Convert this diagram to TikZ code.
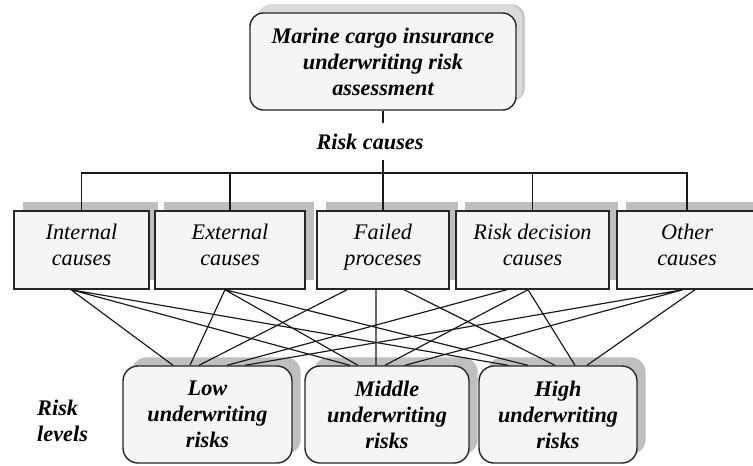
\documentclass[tikz,border=0pt]{standalone}
\usepackage{fontspec}
\setmainfont{Liberation Serif}
\usetikzlibrary{shadows,calc}

\begin{document}
\begin{tikzpicture}[x=0.03cm, y=-0.03cm,
    causebox/.style={draw=black!85, line width=1.2pt, fill=gray!8, align=center, inner sep=0pt,
        font=\fontsize{19}{22.2}\selectfont\itshape, minimum height=2.34cm, text depth=8.5pt,
        drop shadow={shadow xshift=0.26cm, shadow yshift=0.26cm, fill=gray!50, opacity=1}},
    levelbox/.style={causebox, rounded corners=0.45cm, minimum height=2.91cm, text depth=0pt,
        font=\fontsize{19}{22.2}\selectfont\bfseries\itshape},
    topbox/.style={levelbox, rounded corners=0.4cm,
        drop shadow={shadow xshift=0.2cm, shadow yshift=0.24cm, fill=gray!28, opacity=1}},
    bilabel/.style={font=\fontsize{19}{22.2}\selectfont\bfseries\itshape, inner sep=0pt},
    link/.style={line width=1pt, black!90}]
\useasboundingbox (0,0) rectangle (753,465);

\node[topbox, minimum width=7.98cm] (assess) at (383,61.5) {Marine cargo insurance\\underwriting risk\\assessment};
\node[bilabel, minimum height=1.11cm] (causes) at (370,141.5) {Risk causes};
\coordinate (bar) at (0,173);

\node[causebox, minimum width=4.05cm] (internal) at (81.5,250) {Internal\\causes};
\node[causebox, minimum width=4.5cm] (external) at (230,250) {External\\causes};
\node[causebox, minimum width=3.96cm] (failed) at (383,250) {Failed\\proceses};
\node[causebox, minimum width=4.59cm] (decision) at (532.5,250) {Risk decision\\causes};
\node[causebox, minimum width=4.2cm] (other) at (687,250) {Other\\causes};

\node[levelbox, minimum width=5.07cm] (low) at (207.5,414.5) {Low\\underwriting\\risks};
\node[levelbox, minimum width=4.92cm] (middle) at (387,414.5) {Middle\\underwriting\\risks};
\node[levelbox, minimum width=4.74cm] (high) at (558,414.5) {High\\underwriting\\risks};
\node[bilabel, anchor=west, align=left] (levels) at (37,421) {Risk\\levels};

\draw[link] (assess.south) -- (assess.south |- causes.north);
\draw[link] (failed.north |- causes.south) -- (failed.north);
\draw[link] (internal.north) -- (internal.north |- bar) -| (other.north);
\draw[link] (external.north) -- (external.north |- bar);
\draw[link] (decision.north) -- (decision.north |- bar);

\draw[link] ($(internal.south)+(-10.5,0)$) -- ($(low.north)+(-34.5,0)$)
    ($(internal.south)+(-10.5,0)$) -- ($(middle.north)+(-37,0)$)
    ($(internal.south)+(-10.5,0)$) -- ($(high.north)+(-50,0)$);
\draw[link] ($(external.south)+(-5,0)$) -- ($(low.north)+(-17.5,0)$)
    ($(external.south)+(-5,0)$) -- ($(middle.north)+(-29,0)$)
    ($(external.south)+(-5,0)$) -- ($(high.north)+(-30,0)$);
\draw[link] ($(failed.south)+(-36,0)$) -- ($(low.north)+(-8.5,0)$)
    ($(failed.south)+(-7,0)$) -- ($(middle.north)+(-11,0)$)
    ($(failed.south)+(21,0)$) -- ($(high.north)+(-3,0)$);
\draw[link] ($(decision.south)+(-25.5,0)$) -- ($(low.north)+(19.5,0)$)
    ($(decision.south)+(-4.5,0)$) -- ($(middle.north)+(-2,0)$)
    ($(decision.south)+(-4.5,0)$) -- ($(high.north)+(17,0)$);
\draw[link] ($(other.south)+(-4,0)$) -- ($(low.north)+(37.5,0)$)
    ($(other.south)+(-4,0)$) -- ($(middle.north)+(18,0)$)
    ($(other.south)+(8,0)$) -- ($(high.north)+(29,0)$);
\end{tikzpicture}
\end{document}
